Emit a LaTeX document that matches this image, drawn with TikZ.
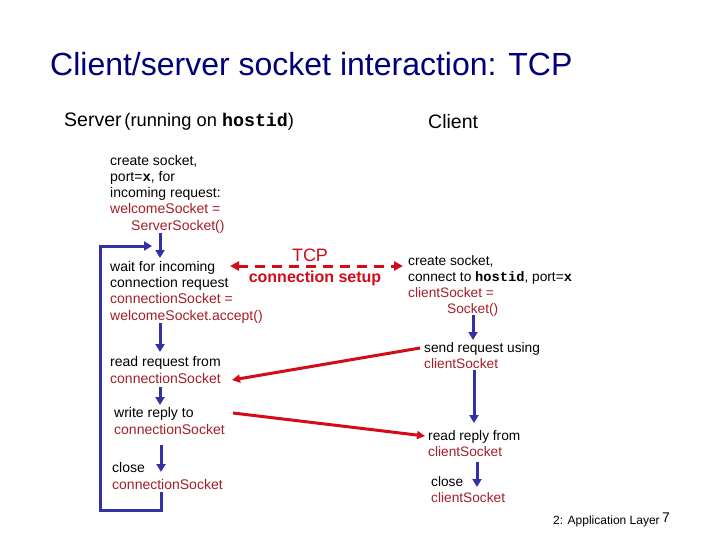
\documentclass[tikz,border=0pt]{standalone}
\usepackage{fontspec}
\setmainfont{Liberation Sans}
\newfontfamily\cour{Liberation Mono}
\usetikzlibrary{arrows.meta}
\definecolor{navy}{RGB}{0,0,120}
\definecolor{txtred}{RGB}{165,30,40}
\definecolor{arrred}{RGB}{210,12,25}
\definecolor{arrblue}{RGB}{50,50,165}
\newcommand{\rd}[1]{\textcolor{txtred}{#1}}
\newcommand{\cb}[1]{{\cour\bfseries #1}}
\tikzset{
  lbl/.style={anchor=base west, inner sep=0pt, align=left, font=\fontsize{14}{16.2}\selectfont},
  clbl/.style={lbl, font=\fontsize{13.7}{16}\selectfont},
  bluearrow/.style={draw=arrblue, line width=3pt, -{Triangle[width=9pt,length=8pt]}},
  redarrow/.style={draw=arrred, line width=3pt, -{Triangle[width=8pt,length=8pt]}},
  tcparrow/.style={draw=arrred, line width=3pt, dash pattern=on 10pt off 7pt,
     {Triangle[width=9pt,length=9pt]}-{Triangle[width=9pt,length=9pt]}},
}
\begin{document}
\begin{tikzpicture}[x=1pt,y=-1pt]
\useasboundingbox (0,0) rectangle (720,540);
\fill[white] (0,0) rectangle (720,540);

% title
\node[anchor=base west, inner sep=0pt, text=navy, font=\fontsize{32}{36}\selectfont] (title) at (50,76) {Client/server socket interaction: TCP};

% headers
\node[anchor=base west, inner sep=0pt] (server) at (64,127)
  {{\fontsize{19.5}{22}\selectfont Server} {\fontsize{18.3}{22}\selectfont (running on \cb{hostid})}};
\node[anchor=base west, inner sep=0pt, font=\fontsize{19.5}{22}\selectfont] (client) at (428,129) {Client};

% server column (anchor = baseline of the last line)
\node[lbl] (s1) at (110,230) {create socket,\\ port=\cb{x}, for\\ incoming request:\\ \rd{welcomeSocket =}\\ \rd{\hspace*{21pt}ServerSocket()}};
\node[lbl] (s2) at (110,320) {wait for incoming\\ connection request\\ \rd{connectionSocket =}\\ \rd{welcomeSocket.accept()}};
\node[lbl] (s3) at (110,383) {read request from\\ \rd{connectionSocket}};
\node[lbl] (s4) at (114,434) {write reply to\\ \rd{connectionSocket}};
\node[lbl] (s5) at (112,489) {close\\ \rd{connectionSocket}};

% client column
\node[clbl] (c1) at (408,313) {create socket,\\ connect to \cb{hostid}, port=\cb{x}\\ \rd{clientSocket =}\\ \rd{\hspace*{39pt}Socket()}};
\node[clbl] (c2) at (424,368) {send request using\\ \rd{clientSocket}};
\node[clbl] (c3) at (428,456) {read reply from\\ \rd{clientSocket}};
\node[clbl] (c4) at (431,502) {close\\ \rd{clientSocket}};

% TCP connection setup
\node[anchor=base, inner sep=0pt, text=arrred, font=\fontsize{18}{20}\selectfont] (tcp) at (310,261) {TCP};
\node[anchor=base, inner sep=0pt, text=arrred, font=\fontsize{16}{18}\bfseries\selectfont] (setup) at (315,282) {connection setup};

% coordinates
\coordinate (a1s) at (160,233); \coordinate (a1e) at (160,258);
\coordinate (a2s) at (160,323); \coordinate (a2e) at (160,352);
\coordinate (a3s) at (160,387); \coordinate (a3e) at (160,405);
\coordinate (a4s) at (161,445); \coordinate (a4e) at (161,472);
\coordinate (l0) at (161,492); \coordinate (l1) at (161,510);
\coordinate (l2) at (100,510); \coordinate (l3) at (100,246);
\coordinate (l4) at (152,246);
\coordinate (b1s) at (473,315); \coordinate (b1e) at (473,340);
\coordinate (b2s) at (474,370); \coordinate (b2e) at (474,423);
\coordinate (b3s) at (477,462); \coordinate (b3e) at (477,487);
\coordinate (t1) at (230,266); \coordinate (t2) at (403,266);
\coordinate (r1s) at (420,348); \coordinate (r1e) at (232,380);
\coordinate (r2s) at (233,413); \coordinate (r2e) at (425,436);

% blue flow arrows
\draw[bluearrow] (a1s) -- (a1e);
\draw[bluearrow] (a2s) -- (a2e);
\draw[bluearrow] (a3s) -- (a3e);
\draw[bluearrow] (a4s) -- (a4e);
\draw[bluearrow] (l0) -- (l1) -- (l2) -- (l3) -- (l4);
\draw[bluearrow] (b1s) -- (b1e);
\draw[bluearrow] (b2s) -- (b2e);
\draw[bluearrow] (b3s) -- (b3e);

% red messages
\draw[tcparrow] (t1) -- (t2);
\draw[redarrow] (r1s) -- (r1e);
\draw[redarrow] (r2s) -- (r2e);

% footer
\node[anchor=base west, inner sep=0pt, font=\fontsize{12}{14}\selectfont] (footer) at (553,524) {2: Application Layer};
\node[anchor=base west, inner sep=0pt, font=\fontsize{14}{16}\selectfont] (page) at (662,522) {7};
\end{tikzpicture}
\end{document}
